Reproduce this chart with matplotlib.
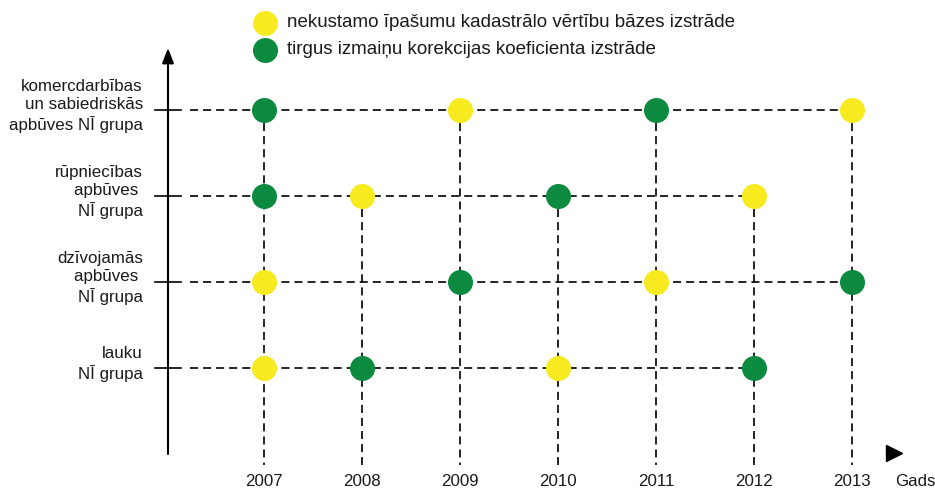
import numpy as np
import matplotlib.pyplot as plt

plt.rcParams['font.family'] = ['Liberation Sans', 'DejaVu Sans']
plt.rcParams['lines.scale_dashes'] = False

years = [2007, 2008, 2009, 2010, 2011, 2012, 2013]
groups = ["lauku\nNĪ grupa",
          "dzīvojamās\napbūves \nNĪ grupa",
          "rūpniecības\napbūves \nNĪ grupa",
          "komercdarbības\nun sabiedriskās\napbūves NĪ grupa"]
base_years = [[2007, 2010], [2007, 2011], [2008, 2012], [2009, 2013]]
corr_years = [[2008, 2012], [2009, 2013], [2007, 2010], [2007, 2011]]
legend_labels = ["nekustamo īpašumu kadastrālo vērtību bāzes izstrāde",
                 "tirgus izmaiņu korekcijas koeficienta izstrāde"]
xlabel = "Gads"

yellow = '#f7ea1f'
green = '#0b8a40'
txt = '#1a1a1a'

fig = plt.figure(figsize=(9.35, 4.9), dpi=100)
ax = fig.add_axes([0, 0, 1, 1])
ax.set_axis_off()

# pixel grid: year step 98px, row step 86px
x0, dx = 264, 98
y0, dy = 368, 86
ax.set_xlim(years[0] - x0 / dx, years[0] + (935 - x0) / dx)
ax.set_ylim(-(490 - y0) / dy, y0 / dy)

def px(x):
    return years[0] + (x - x0) / dx

def py(y):
    return (y0 - y) / dy

dash = (0, (5.8, 3.6))
ms = 17

# vertical dashed lines from highest point down
for yr in years:
    rows = [i for i in range(len(groups)) if yr in base_years[i] or yr in corr_years[i]]
    ax.plot([yr, yr], [max(rows), py(465)], color='black', lw=1.2, ls=dash, zorder=1)

# horizontal dashed lines + ticks
for i, g in enumerate(groups):
    last = max(base_years[i] + corr_years[i])
    ax.plot([px(190), last], [i, i], color='black', lw=1.2, ls=dash, zorder=1)
    ax.plot([px(155), px(181)], [i, i], color='black', lw=1.2, zorder=2)
    ax.text(px(143), i + 4 / dy, g, ha='right', va='center', fontsize=12.2,
            linespacing=1.26, color=txt)

for i in range(len(groups)):
    ax.plot(base_years[i], [i] * len(base_years[i]), 'o', ms=ms, color=yellow,
            mec=yellow, zorder=3)
    ax.plot(corr_years[i], [i] * len(corr_years[i]), 'o', ms=ms, color=green,
            mec=green, zorder=3)

# y axis with arrow
ax.annotate('', xy=(px(168), py(48)), xytext=(px(168), py(454)),
            arrowprops=dict(arrowstyle='-|>,head_width=0.35,head_length=0.9',
                            color='black', lw=1.5, shrinkA=0, shrinkB=0))
# x axis arrow head only
ax.plot([px(894)], [py(453)], marker='>', ms=11, color='black', ls='none')

for yr in years:
    ax.text(yr, py(481), str(yr), ha='center', va='center', fontsize=12.2, color=txt)
ax.text(px(895), py(481), xlabel, ha='left', va='center', fontsize=12.2, color=txt)

# legend
ax.plot([px(265)], [py(23)], 'o', ms=ms, color=yellow, mec=yellow)
ax.plot([px(265)], [py(50)], 'o', ms=ms, color=green, mec=green)
ax.text(px(287), py(23), legend_labels[0], ha='left', va='center', fontsize=13.5, color=txt)
ax.text(px(287), py(50), legend_labels[1], ha='left', va='center', fontsize=13.5, color=txt)

fig.savefig('out.png', dpi=100)
